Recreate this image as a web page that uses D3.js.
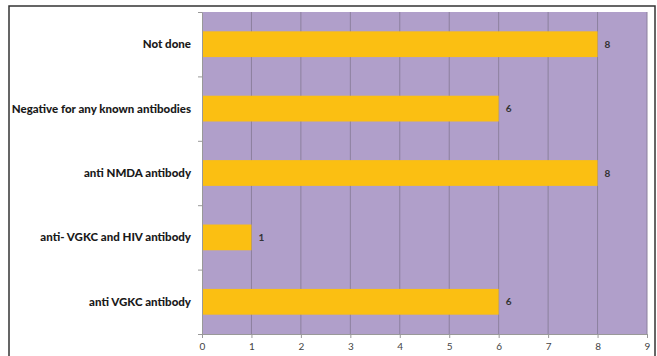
<!DOCTYPE html>
<html><head><meta charset="utf-8">
<script src="https://cdn.jsdelivr.net/npm/d3@7"></script>
<style>body{margin:0;background:#fff}svg{display:block}</style>
</head><body>
<script>
const categories = ["Not done","Negative for any known antibodies","anti NMDA antibody","anti- VGKC and HIV antibody","anti VGKC antibody"];
const values = [8,6,8,1,6];
const xTicks = [0,1,2,3,4,5,6,7,8,9];

const W=657,H=356;
const svg=d3.select("body").append("svg").attr("width",W).attr("height",H);
svg.append("rect").attr("x",9).attr("y",6).attr("width",646).attr("height",360).attr("fill","#fff").attr("stroke","#333").attr("stroke-width",1.5);

const L=202,R=647,T=12,B=334;
const x=d3.scaleLinear().domain([0,9]).range([L,R]);
const y=d3.scaleBand().domain(categories).range([T,B]).paddingInner(0.6).paddingOuter(0.3);

svg.append("rect").attr("x",L).attr("y",T).attr("width",R-L).attr("height",B-T).attr("fill","#B09FCA");
svg.append("g").selectAll("line").data(xTicks.slice(1)).join("line")
  .attr("x1",d=>x(d)).attr("x2",d=>x(d)).attr("y1",T).attr("y2",B)
  .attr("stroke","#8C809E").attr("stroke-width",1);

svg.append("g").selectAll("rect").data(values).join("rect")
  .attr("x",L).attr("y",(d,i)=>y(categories[i])).attr("width",d=>x(d)-L).attr("height",y.bandwidth())
  .attr("fill","#FBBF12");

svg.append("g").selectAll("text").data(values).join("text")
  .attr("x",d=>x(d)+7).attr("y",(d,i)=>y(categories[i])+y.bandwidth()/2+3.5)
  .attr("font-family","Lato,sans-serif").attr("font-size",10).attr("font-weight","bold").attr("fill","#333")
  .text(d=>d);

// x axis
const xa=svg.append("g").attr("transform",`translate(0,${B})`).call(d3.axisBottom(x).tickValues(xTicks).tickSize(4).tickSizeOuter(0));
xa.select(".domain").attr("stroke","#999");
xa.selectAll(".tick line").attr("stroke","#999");
xa.selectAll("text").attr("font-family","Lato,sans-serif").attr("font-size",10).attr("fill","#444").attr("dy","0.85em");

// y axis
const yb=d3.scaleLinear().domain([0,5]).range([B,T]);
const ya=svg.append("g").attr("transform",`translate(${L},0)`).call(d3.axisLeft(yb).ticks(5).tickSize(4).tickFormat("").tickSizeOuter(0));
ya.select(".domain").attr("stroke","#999");
ya.selectAll(".tick line").attr("stroke","#999");

svg.append("g").selectAll("text").data(categories).join("text")
  .attr("x",191).attr("y",d=>y(d)+y.bandwidth()/2+4)
  .attr("text-anchor","end").attr("font-family","Lato,sans-serif").attr("font-size",11.5).attr("font-weight","900").attr("fill","#1a1a1a")
  .text(d=>d);
</script>
</body></html>
